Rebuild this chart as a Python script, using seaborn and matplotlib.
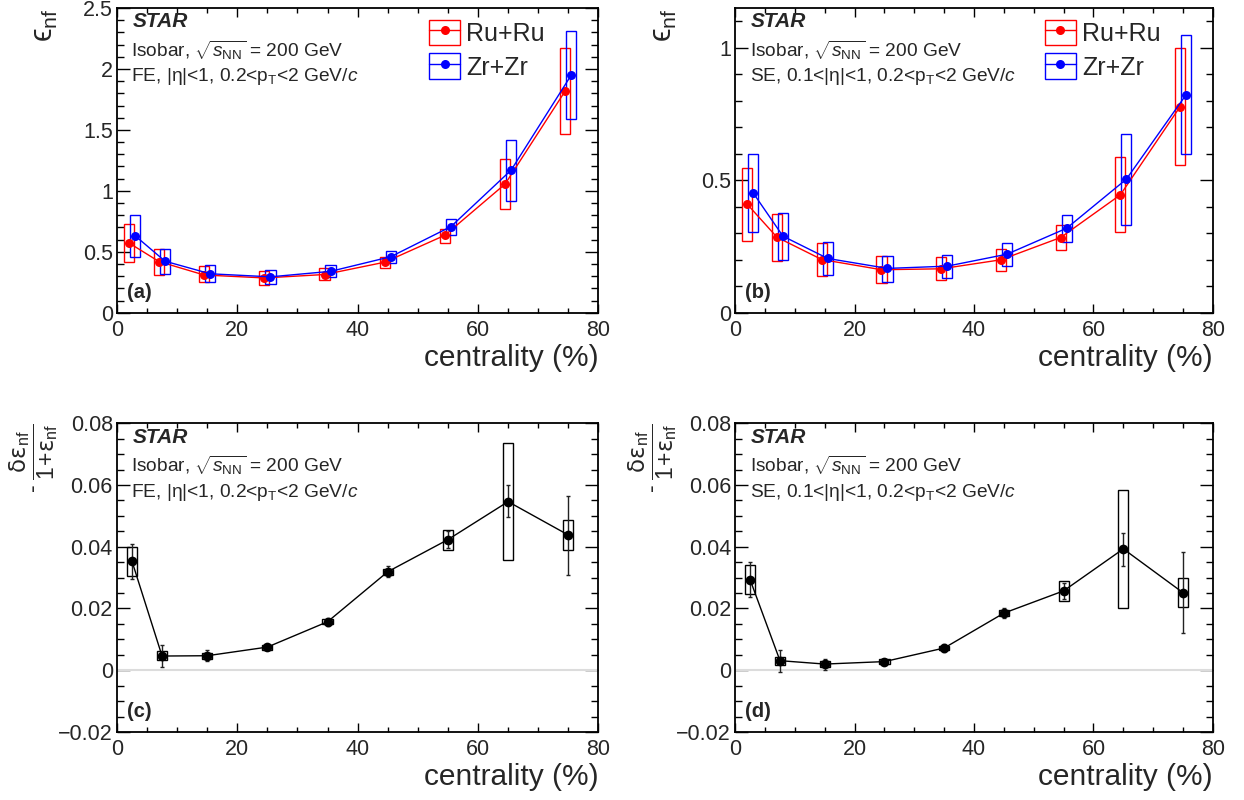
import numpy as np
import matplotlib
matplotlib.use("Agg")
import matplotlib.pyplot as plt
import seaborn as sns
from matplotlib.ticker import MultipleLocator, FuncFormatter
from matplotlib.legend_handler import HandlerTuple
from matplotlib.patches import Rectangle
from matplotlib.lines import Line2D

# centrality bin centres (%)
cent = np.array([2.5, 7.5, 15, 25, 35, 45, 55, 65, 75])

# (a) eps_nf, FE
ru_fe = [0.573, 0.42, 0.31, 0.286, 0.314, 0.415, 0.636, 1.056, 1.82]
ru_fe_lo = [0.42, 0.31, 0.25, 0.23, 0.27, 0.37, 0.57, 0.85, 1.47]
ru_fe_hi = [0.73, 0.52, 0.38, 0.34, 0.37, 0.46, 0.69, 1.26, 2.17]
zr_fe = [0.633, 0.423, 0.32, 0.295, 0.34, 0.46, 0.707, 1.17, 1.95]
zr_fe_lo = [0.46, 0.32, 0.25, 0.24, 0.29, 0.41, 0.64, 0.92, 1.59]
zr_fe_hi = [0.80, 0.52, 0.39, 0.35, 0.39, 0.51, 0.77, 1.42, 2.31]

# (b) eps_nf, SE
ru_se = [0.41, 0.285, 0.201, 0.1625, 0.166, 0.20, 0.284, 0.445, 0.7775]
ru_se_lo = [0.271, 0.195, 0.139, 0.114, 0.1225, 0.156, 0.2375, 0.304, 0.556]
ru_se_hi = [0.548, 0.374, 0.264, 0.2125, 0.21, 0.24, 0.3325, 0.586, 1.0]
zr_se = [0.4525, 0.289, 0.205, 0.1675, 0.176, 0.221, 0.319, 0.504, 0.8225]
zr_se_lo = [0.306, 0.199, 0.141, 0.1175, 0.131, 0.1775, 0.269, 0.331, 0.5975]
zr_se_hi = [0.60, 0.376, 0.266, 0.215, 0.2175, 0.2625, 0.369, 0.676, 1.049]

# (c) relative difference, FE
rel_fe = [0.0353, 0.0046, 0.0047, 0.0075, 0.0157, 0.0319, 0.0423, 0.0546, 0.0438]
rel_fe_sys_lo = [0.0305, 0.0033, 0.0038, 0.0067, 0.0149, 0.0310, 0.0388, 0.0357, 0.0390]
rel_fe_sys_hi = [0.0400, 0.0062, 0.0056, 0.0083, 0.0165, 0.0328, 0.0454, 0.0736, 0.0486]
rel_fe_stat_lo = [0.0294, 0.0011, 0.0031, 0.0067, 0.0144, 0.0302, 0.0396, 0.0495, 0.0310]
rel_fe_stat_hi = [0.0410, 0.0083, 0.0066, 0.0083, 0.0170, 0.0336, 0.0450, 0.0600, 0.0565]

# (d) relative difference, SE
rel_se = [0.0293, 0.0031, 0.0020, 0.0028, 0.0072, 0.0185, 0.0257, 0.0393, 0.0251]
rel_se_sys_lo = [0.0247, 0.0017, 0.0011, 0.0021, 0.0064, 0.0176, 0.0223, 0.0200, 0.0204]
rel_se_sys_hi = [0.0341, 0.0042, 0.0029, 0.0035, 0.0080, 0.0194, 0.0290, 0.0585, 0.0300]
rel_se_stat_lo = [0.0236, -0.0005, 0.0001, 0.0018, 0.0060, 0.0168, 0.0230, 0.0339, 0.0121]
rel_se_stat_hi = [0.0351, 0.0067, 0.0037, 0.0038, 0.0084, 0.0202, 0.0284, 0.0446, 0.0384]

sns.set_style("ticks")
plt.rcParams['font.family'] = ['Liberation Sans', 'DejaVu Sans']
plt.rcParams['mathtext.fontset'] = 'custom'
plt.rcParams['mathtext.rm'] = 'Liberation Sans'
plt.rcParams['mathtext.it'] = 'Liberation Sans:italic'
plt.rcParams['mathtext.bf'] = 'Liberation Sans:bold'
plt.rcParams['mathtext.sf'] = 'DejaVu Sans'

BOXW = 1.7


def fmt_tick(v, pos):
    s = "%g" % round(v, 6)
    return s.replace("-", "\u2212")


def style_axes(ax, ymin, ymax, ymaj, ymin_step):
    ax.set_xlim(0, 80)
    ax.set_ylim(ymin, ymax)
    ax.xaxis.set_major_locator(MultipleLocator(20))
    ax.xaxis.set_minor_locator(MultipleLocator(5))
    ax.yaxis.set_major_locator(MultipleLocator(ymaj))
    ax.yaxis.set_minor_locator(MultipleLocator(ymin_step))
    ax.yaxis.set_major_formatter(FuncFormatter(fmt_tick))
    ax.xaxis.set_major_formatter(FuncFormatter(fmt_tick))
    ax.tick_params(which='both', direction='in', top=True, right=True,
                   labelsize=15.5, width=1.0, color='black')
    ax.tick_params(axis='x', which='major', length=6.5, pad=5)
    ax.tick_params(axis='x', which='minor', length=3.5)
    ax.tick_params(axis='y', which='major', length=9.5, pad=3)
    ax.tick_params(axis='y', which='minor', length=5)
    for sp in ax.spines.values():
        sp.set_linewidth(1.3)
        sp.set_color('black')
    ax.set_xlabel("centrality (%)", fontsize=21.5, loc='right', labelpad=2)


def header(ax, line3, tag):
    ax.text(0.033, 0.955, "STAR", transform=ax.transAxes, fontsize=15,
            fontweight='bold', style='italic', va='center', ha='left')
    ax.text(0.030, 0.862, r"Isobar, $\sqrt{s_{\rm NN}}$ = 200 GeV",
            transform=ax.transAxes, fontsize=13.8, va='center', ha='left')
    ax.text(0.030, 0.775, line3, transform=ax.transAxes, fontsize=13.8,
            va='center', ha='left')
    ax.text(0.020, 0.068, tag, transform=ax.transAxes, fontsize=14.5,
            fontweight='bold', va='center', ha='left')


def top_panel(ax, ru, ru_lo, ru_hi, zr, zr_lo, zr_hi, ymax, line3, tag):
    for vals, lo, hi, col, dx in [(ru, ru_lo, ru_hi, 'red', -0.5),
                                  (zr, zr_lo, zr_hi, 'blue', 0.5)]:
        x = cent + dx
        lo = np.array(lo)
        hi = np.array(hi)
        ax.bar(x, hi - lo, bottom=lo, width=BOXW, fill=False,
               edgecolor=col, linewidth=1.0, zorder=2)
        sns.lineplot(x=x, y=vals, ax=ax, color=col, marker='o', markersize=6.5,
                     markeredgecolor=col, markeredgewidth=0, linewidth=1.0,
                     sort=False, zorder=3)
    style_axes(ax, 0, ymax, 0.5, 0.1)
    ax.set_ylabel("ϵ$_{\\rm nf}$", fontsize=22, loc='top')
    ax.yaxis.set_label_coords(-0.118, 1.0)
    header(ax, line3, tag)
    handles = []
    for col in ['red', 'blue']:
        box = Rectangle((0, 0), 1, 1, fill=False, edgecolor=col, linewidth=1.0)
        ln = Line2D([], [], color=col, marker='o', markersize=6.5,
                    markeredgewidth=0, linewidth=1.0)
        handles.append((box, ln))
    ax.legend(handles, ['Ru+Ru', 'Zr+Zr'], loc='upper left',
              bbox_to_anchor=(0.648, 0.962), frameon=False, fontsize=18,
              handler_map={tuple: HandlerTuple(ndivide=1, pad=0)},
              handlelength=1.25, handleheight=1.2, handletextpad=0.25,
              labelspacing=0.3, borderpad=0, borderaxespad=0)


def bottom_panel(ax, vals, s_lo, s_hi, st_lo, st_hi, line3, tag):
    vals = np.array(vals)
    ax.axhline(0, color='#dcdcdc', linewidth=1.5, zorder=1)
    s_lo = np.array(s_lo)
    s_hi = np.array(s_hi)
    ax.bar(cent, s_hi - s_lo, bottom=s_lo, width=BOXW, fill=False,
           edgecolor='black', linewidth=1.0, zorder=2)
    ax.errorbar(cent, vals, yerr=[vals - np.array(st_lo), np.array(st_hi) - vals],
                fmt='none', ecolor='#222222', elinewidth=1.0, capsize=1.5,
                capthick=1.0, zorder=3)
    sns.lineplot(x=cent, y=vals, ax=ax, color='black', marker='o', markersize=7,
                 markeredgecolor='black', markeredgewidth=0, linewidth=1.0,
                 sort=False, zorder=4)
    style_axes(ax, -0.02, 0.08, 0.02, 0.005)
    ax.set_ylabel(r"- $\dfrac{\mathsf{\delta\epsilon}_{\rm nf}}{1\!+\!\mathsf{\epsilon}_{\rm nf}}$",
                  fontsize=16.5, loc='top')
    ax.yaxis.set_label_coords(-0.118, 1.0)
    header(ax, line3, tag)


fig = plt.figure(figsize=(12.44, 8.0), dpi=100)
ax_a = fig.add_axes([0.094, 0.609, 0.387, 0.381])
ax_b = fig.add_axes([0.591, 0.609, 0.384, 0.381])
ax_c = fig.add_axes([0.094, 0.085, 0.387, 0.386])
ax_d = fig.add_axes([0.591, 0.085, 0.384, 0.386])

fe_line = r"FE, |η|<1, 0.2<p$_{\rm T}$<2 GeV/$c$"
se_line = r"SE, 0.1<|η|<1, 0.2<p$_{\rm T}$<2 GeV/$c$"

top_panel(ax_a, ru_fe, ru_fe_lo, ru_fe_hi, zr_fe, zr_fe_lo, zr_fe_hi, 2.5, fe_line, "(a)")
top_panel(ax_b, ru_se, ru_se_lo, ru_se_hi, zr_se, zr_se_lo, zr_se_hi, 1.15, se_line, "(b)")
bottom_panel(ax_c, rel_fe, rel_fe_sys_lo, rel_fe_sys_hi, rel_fe_stat_lo, rel_fe_stat_hi, fe_line, "(c)")
bottom_panel(ax_d, rel_se, rel_se_sys_lo, rel_se_sys_hi, rel_se_stat_lo, rel_se_stat_hi, se_line, "(d)")

fig.savefig("out.png", dpi=100)
